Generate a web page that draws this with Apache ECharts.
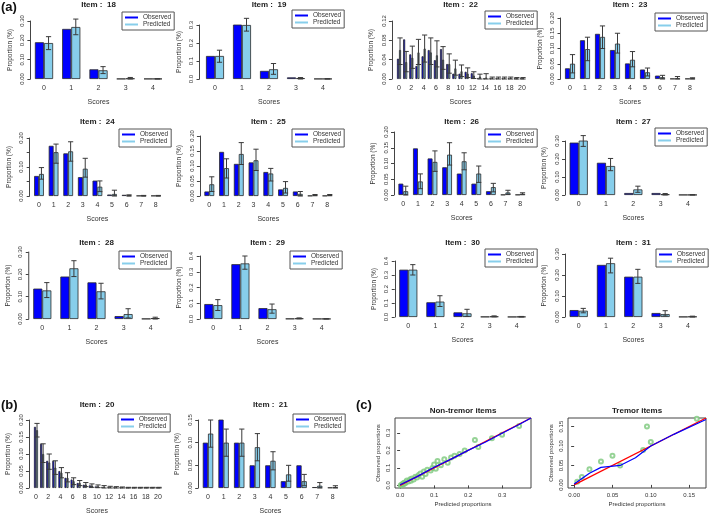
<!DOCTYPE html>
<html><head><meta charset="utf-8">
<script src="https://cdn.jsdelivr.net/npm/echarts/dist/echarts.min.js"></script>
<style>html,body{margin:0;padding:0;background:#fff}#c{width:709px;height:516px}</style>
</head><body><div id="c"></div><script>
// ---------- categories ----------
const scores0to4 = ['0','1','2','3','4'];
const scores0to8 = ['0','1','2','3','4','5','6','7','8'];
const scores0to20 = ['0','1','2','3','4','5','6','7','8','9','10','11','12','13','14','15','16','17','18','19','20'];

// ---------- item values (proportions) ----------
const item18Observed  = [0.190,0.259,0.050,0.001,0.001];
const item18Predicted = [0.186,0.269,0.045,0.003,0.001];
const item18Lower     = [0.152,0.229,0.028,0.000,0.000];
const item18Upper     = [0.219,0.310,0.064,0.008,0.002];

const item19Observed  = [0.128,0.305,0.045,0.009,0.001];
const item19Predicted = [0.128,0.300,0.054,0.005,0.001];
const item19Lower     = [0.093,0.266,0.026,0.000,0.000];
const item19Upper     = [0.160,0.337,0.086,0.008,0.002];

const item22Observed  = [0.042,0.082,0.051,0.027,0.047,0.060,0.039,0.062,0.031,0.011,0.011,0.015,0.012,0.002,0.001,0.001,0.001,0.001,0.001,0.001,0.001];
const item22Predicted = [0.060,0.035,0.044,0.055,0.063,0.055,0.049,0.040,0.031,0.022,0.016,0.011,0.007,0.005,0.003,0.002,0.002,0.002,0.002,0.001,0.001];
const item22Lower     = [0.030,0.015,0.022,0.030,0.035,0.030,0.025,0.020,0.012,0.008,0.005,0.003,0.001,0.000,0.000,0.000,0.000,0.000,0.000,0.000,0.000];
const item22Upper     = [0.085,0.057,0.068,0.082,0.091,0.085,0.079,0.067,0.052,0.039,0.029,0.023,0.015,0.010,0.011,0.004,0.004,0.004,0.004,0.003,0.003];

const item23Observed  = [0.035,0.127,0.148,0.095,0.051,0.031,0.011,0.001,0.001];
const item23Predicted = [0.050,0.098,0.138,0.116,0.063,0.022,0.006,0.002,0.002];
const item23Lower     = [0.020,0.060,0.100,0.085,0.040,0.010,0.000,0.000,0.000];
const item23Upper     = [0.080,0.137,0.174,0.150,0.090,0.036,0.012,0.008,0.004];

const item24Observed  = [0.069,0.173,0.147,0.065,0.053,0.005,0.004,0.001,0.001];
const item24Predicted = [0.076,0.151,0.154,0.094,0.032,0.007,0.002,0.001,0.001];
const item24Lower     = [0.058,0.113,0.120,0.065,0.015,0.000,0.000,0.000,0.000];
const item24Upper     = [0.098,0.179,0.187,0.130,0.052,0.020,0.004,0.002,0.002];

const item25Observed  = [0.015,0.147,0.107,0.112,0.080,0.022,0.015,0.001,0.001];
const item25Predicted = [0.039,0.093,0.140,0.119,0.075,0.027,0.007,0.003,0.003];
const item25Lower     = [0.015,0.060,0.105,0.085,0.050,0.010,0.000,0.001,0.001];
const item25Upper     = [0.064,0.124,0.178,0.156,0.092,0.048,0.015,0.005,0.005];

const item26Observed  = [0.036,0.148,0.116,0.088,0.068,0.036,0.012,0.001,0.001];
const item26Predicted = [0.012,0.043,0.105,0.128,0.107,0.068,0.025,0.008,0.004];
const item26Lower     = [0.000,0.020,0.075,0.095,0.080,0.040,0.010,0.002,0.001];
const item26Upper     = [0.028,0.067,0.140,0.166,0.134,0.092,0.037,0.015,0.007];

const item27Observed  = [0.291,0.179,0.011,0.011,0.001];
const item27Predicted = [0.303,0.161,0.031,0.004,0.001];
const item27Lower     = [0.270,0.135,0.015,0.000,0.000];
const item27Upper     = [0.330,0.203,0.049,0.008,0.002];

const item28Observed  = [0.136,0.190,0.164,0.013,0.001];
const item28Predicted = [0.128,0.227,0.124,0.022,0.004];
const item28Lower     = [0.096,0.190,0.090,0.005,0.000];
const item28Upper     = [0.163,0.261,0.160,0.046,0.008];

const item29Observed  = [0.095,0.348,0.069,0.002,0.001];
const item29Predicted = [0.088,0.353,0.062,0.004,0.001];
const item29Lower     = [0.054,0.316,0.037,0.001,0.000];
const item29Upper     = [0.123,0.400,0.095,0.007,0.002];

const item30Observed  = [0.338,0.105,0.033,0.002,0.001];
const item30Predicted = [0.338,0.110,0.026,0.004,0.002];
const item30Lower     = [0.300,0.075,0.005,0.001,0.000];
const item30Upper     = [0.374,0.152,0.055,0.008,0.004];

const item31Observed  = [0.033,0.248,0.192,0.019,0.001];
const item31Predicted = [0.030,0.256,0.192,0.014,0.002];
const item31Lower     = [0.020,0.210,0.160,0.005,0.000];
const item31Upper     = [0.041,0.280,0.227,0.030,0.004];

const item20Observed  = [0.180,0.130,0.080,0.080,0.050,0.030,0.025,0.015,0.010,0.008,0.005,0.003,0.002,0.001,0.001,0.001,0.001,0.001,0.001,0.001,0.001];
const item20Predicted = [0.170,0.100,0.075,0.060,0.045,0.030,0.020,0.015,0.010,0.007,0.005,0.004,0.003,0.002,0.002,0.001,0.001,0.001,0.001,0.001,0.001];
const item20Lower     = [0.150,0.075,0.055,0.040,0.030,0.018,0.010,0.007,0.004,0.002,0.001,0.000,0.000,0.000,0.000,0.000,0.000,0.000,0.000,0.000,0.000];
const item20Upper     = [0.190,0.130,0.100,0.080,0.060,0.045,0.030,0.022,0.016,0.012,0.009,0.007,0.005,0.004,0.003,0.002,0.002,0.002,0.002,0.002,0.002];

const item21Observed  = [0.100,0.170,0.100,0.050,0.050,0.015,0.050,0.002,0.001];
const item21Predicted = [0.120,0.100,0.100,0.090,0.060,0.030,0.015,0.005,0.002];
const item21Lower     = [0.090,0.070,0.070,0.060,0.040,0.015,0.005,0.000,0.000];
const item21Upper     = [0.150,0.130,0.130,0.120,0.080,0.050,0.030,0.012,0.005];

// ---------- calibration plots (predicted, observed) ----------
const nonTremorPoints = [[0.002,0.001],[0.005,0.004],[0.008,0.010],[0.010,0.006],[0.012,0.015],[0.015,0.012],[0.018,0.020],[0.020,0.028],[0.025,0.022],[0.030,0.035],[0.032,0.027],[0.035,0.040],[0.040,0.033],[0.045,0.050],[0.050,0.045],[0.055,0.060],[0.060,0.068],[0.065,0.050],[0.070,0.080],[0.075,0.065],[0.080,0.090],[0.090,0.085],[0.095,0.100],[0.100,0.120],[0.105,0.095],[0.110,0.140],[0.120,0.115],[0.130,0.150],[0.140,0.130],[0.150,0.160],[0.160,0.170],[0.175,0.180],[0.190,0.200],[0.220,0.260],[0.230,0.220],[0.270,0.270],[0.300,0.290],[0.350,0.340]];
const nonTremorSmooth = [[0.000,0.004],[0.050,0.050],[0.100,0.104],[0.150,0.150],[0.200,0.200],[0.250,0.246],[0.300,0.298],[0.350,0.348],[0.385,0.385]];
const nonTremorIdentity = [[0,0],[0.385,0.385]];
const tremorPoints = [[0.004,0.008],[0.010,0.020],[0.020,0.040],[0.035,0.060],[0.050,0.075],[0.060,0.050],[0.090,0.090],[0.095,0.150],[0.100,0.110],[0.160,0.170]];
const tremorSmooth = [[0.000,0.002],[0.020,0.030],[0.035,0.045],[0.060,0.050],[0.080,0.070],[0.100,0.100],[0.130,0.130],[0.172,0.168]];
const tremorIdentity = [[0,0],[0.172,0.172]];

// ---------- panel list ----------
const panels = [
  ['18', scores0to4,  item18Observed, item18Predicted, item18Lower, item18Upper],
  ['19', scores0to4,  item19Observed, item19Predicted, item19Lower, item19Upper],
  ['22', scores0to20, item22Observed, item22Predicted, item22Lower, item22Upper],
  ['23', scores0to8,  item23Observed, item23Predicted, item23Lower, item23Upper],
  ['24', scores0to8,  item24Observed, item24Predicted, item24Lower, item24Upper],
  ['25', scores0to8,  item25Observed, item25Predicted, item25Lower, item25Upper],
  ['26', scores0to8,  item26Observed, item26Predicted, item26Lower, item26Upper],
  ['27', scores0to4,  item27Observed, item27Predicted, item27Lower, item27Upper],
  ['28', scores0to4,  item28Observed, item28Predicted, item28Lower, item28Upper],
  ['29', scores0to4,  item29Observed, item29Predicted, item29Lower, item29Upper],
  ['30', scores0to4,  item30Observed, item30Predicted, item30Lower, item30Upper],
  ['31', scores0to4,  item31Observed, item31Predicted, item31Lower, item31Upper],
  ['20', scores0to20, item20Observed, item20Predicted, item20Lower, item20Upper],
  ['21', scores0to8,  item21Observed, item21Predicted, item21Lower, item21Upper]
];

// ---------- layout (pixels) ----------
const layout = [
  {c0:44,    step:27.25, zero:79,  top:21,  max:0.30, iv:0.10, dec:2, off:0, lg:[122,12],  ty:1},
  {c0:215,   step:27,    zero:79,  top:25,  max:0.3,  iv:0.1,  dec:1, off:2, lg:[292,10],  ty:1},
  {c0:399,   step:6.15,  zero:79,  top:21,  max:0.12, iv:0.04, dec:2, off:4, lg:[485,11],  ty:1},
  {c0:570,   step:15,    zero:79,  top:18,  max:0.20, iv:0.05, dec:2, off:2, lg:[655,13],  ty:1},
  {c0:39,    step:14.6,  zero:196, top:138, max:0.20, iv:0.05, dec:2, off:2, lg:[119,129], ty:118, skip:true},
  {c0:209.3, step:14.75, zero:196, top:136, max:0.20, iv:0.05, dec:2, off:2, lg:[292,129], ty:118},
  {c0:403.3, step:14.6,  zero:195, top:132, max:0.20, iv:0.05, dec:2, off:2, lg:[485,129], ty:118},
  {c0:578.7, step:27.3,  zero:195, top:141, max:0.30, iv:0.10, dec:2, off:0, lg:[655,128], ty:118},
  {c0:42.3,  step:27.1,  zero:319, top:252, max:0.30, iv:0.10, dec:2, off:0, lg:[119,251], ty:239},
  {c0:213.3, step:27.1,  zero:319, top:256, max:0.4,  iv:0.1,  dec:1, off:0, lg:[290,251], ty:239},
  {c0:408.3, step:27.1,  zero:317, top:261, max:0.4,  iv:0.1,  dec:1, off:0, lg:[485,249], ty:239},
  {c0:578.7, step:27.3,  zero:317, top:254, max:0.30, iv:0.10, dec:2, off:0, lg:[656,249], ty:239},
  {c0:36,    step:6.1,   zero:488, top:420, max:0.20, iv:0.05, dec:2, off:4, lg:[118,414], ty:401},
  {c0:208,   step:15.6,  zero:488, top:420, max:0.15, iv:0.05, dec:2, off:2, lg:[293,414], ty:401}
];

const FONT = '"Liberation Sans", Arial, sans-serif';
const TXT = '#333';
const grids = [], xAxes = [], yAxes = [], series = [], titles = [], legends = [];

function errRender(params, api) {
  const i = api.value(0);
  const lo = api.coord([i, api.value(1)]);
  const hi = api.coord([i, api.value(2)]);
  const bw = api.size([1, 0])[0];
  const x = lo[0] + bw / 6;
  const c = 2.6;
  const st = {stroke: '#3a3a3a', lineWidth: 1};
  return {type: 'group', children: [
    {type: 'line', shape: {x1: x, y1: lo[1], x2: x, y2: hi[1]}, style: st},
    {type: 'line', shape: {x1: x - c, y1: hi[1], x2: x + c, y2: hi[1]}, style: st},
    {type: 'line', shape: {x1: x - c, y1: lo[1], x2: x + c, y2: lo[1]}, style: st}
  ]};
}

panels.forEach((p, k) => {
  const [item, cats, obs, pred, lo, hi] = p;
  const L = layout[k];
  const n = cats.length;
  const left = L.c0 - L.step / 2;
  const width = n * L.step;
  grids.push({left: left, top: L.top, width: width, height: L.zero - L.top});
  xAxes.push({
    gridIndex: k, type: 'category', data: cats,
    axisLine: {show: false}, axisTick: {show: false},
    axisLabel: {fontSize: 7, color: TXT, fontFamily: FONT, margin: 6, interval: n > 10 ? 1 : 0},
    name: 'Scores', nameLocation: 'middle', nameGap: 20,
    nameTextStyle: {fontSize: 7, color: TXT, fontFamily: FONT}
  });
  yAxes.push({
    gridIndex: k, type: 'value', min: 0, max: L.max, interval: L.iv, offset: L.off,
    axisLine: {show: true, lineStyle: {color: '#444', width: 1}},
    axisTick: {show: true, length: 3, lineStyle: {color: '#444'}},
    splitLine: {show: false},
    axisLabel: {rotate: 90, fontSize: 6, color: TXT, fontFamily: FONT, margin: 5,
      formatter: v => {
        if (L.skip && Math.abs((v / L.iv) % 2 - 1) < 0.01) return '';
        return v.toFixed(L.dec);
      }},
    name: 'Proportion (%)', nameLocation: 'middle', nameGap: 17,
    nameTextStyle: {fontSize: 6.5, color: TXT, fontFamily: FONT}
  });
  series.push({
    name: 'Observed', type: 'bar', xAxisIndex: k, yAxisIndex: k, data: obs,
    barGap: '0%', barCategoryGap: '33.3%',
    itemStyle: {color: '#0000FF', borderColor: '#2a2a2a', borderWidth: 0.8}
  });
  series.push({
    name: 'Predicted', type: 'bar', xAxisIndex: k, yAxisIndex: k, data: pred,
    barGap: '0%', barCategoryGap: '33.3%',
    itemStyle: {color: '#87CEEB', borderColor: '#2a2a2a', borderWidth: 0.8}
  });
  series.push({
    type: 'custom', xAxisIndex: k, yAxisIndex: k, renderItem: errRender, silent: true,
    encode: {x: 0, y: [1, 2]}, z: 5,
    data: cats.map((c, j) => [j, lo[j], hi[j]])
  });
  titles.push({
    text: 'Item :  ' + item, left: left + width / 2, top: L.ty, textAlign: 'center', padding: 0,
    textStyle: {fontSize: 8, fontWeight: 'bold', color: '#222', fontFamily: FONT}
  });
  legends.push({
    left: L.lg[0], top: L.lg[1], orient: 'vertical', icon: 'rect',
    itemWidth: 13, itemHeight: 2, itemGap: 0, padding: [2, 3, 2, 3],
    borderColor: '#555', borderWidth: 1, borderRadius: 0,
    textStyle: {fontSize: 6.5, color: TXT, fontFamily: FONT, padding: [0, 0, 0, 0]},
    data: [
      {name: 'Observed', itemStyle: {color: '#0000FF', borderWidth: 0}},
      {name: 'Predicted', itemStyle: {color: '#87CEEB', borderWidth: 0}}
    ]
  });
});

// ---------- calibration plots ----------
const calib = [
  {title: 'Non-tremor items', pts: nonTremorPoints, smooth: nonTremorSmooth, ident: nonTremorIdentity,
   left: 395, top: 418, width: 136, height: 70, min: -0.015, max: 0.385,
   ticks: [0, 0.1, 0.2, 0.3], dec: 1},
  {title: 'Tremor items', pts: tremorPoints, smooth: tremorSmooth, ident: tremorIdentity,
   left: 568, top: 418, width: 138, height: 70, min: -0.008, max: 0.172,
   ticks: [0, 0.05, 0.1, 0.15], dec: 2}
];
calib.forEach((c, m) => {
  const k = panels.length + m;
  grids.push({left: c.left, top: c.top, width: c.width, height: c.height, show: true,
    borderColor: '#444', borderWidth: 1, backgroundColor: 'transparent'});
  const common = {
    gridIndex: k, type: 'value', min: c.min, max: c.max,
    axisLine: {show: false}, splitLine: {show: false},
    axisTick: {show: true, length: 3, lineStyle: {color: '#444'}, customValues: c.ticks},
    nameLocation: 'middle', nameTextStyle: {fontSize: 6, color: TXT, fontFamily: FONT}
  };
  xAxes.push(Object.assign({}, common, {
    axisLabel: {fontSize: 6, color: TXT, fontFamily: FONT, margin: 4, customValues: c.ticks,
      formatter: v => v.toFixed(c.dec)},
    name: 'Predicted proportions', nameGap: 13
  }));
  yAxes.push(Object.assign({}, common, {
    axisLabel: {fontSize: 6, color: TXT, fontFamily: FONT, margin: 4, rotate: 90, customValues: c.ticks,
      formatter: v => v.toFixed(c.dec)},
    name: 'Observed proportions', nameGap: 14
  }));
  series.push({type: 'scatter', xAxisIndex: k, yAxisIndex: k, data: c.pts, symbol: 'emptyCircle',
    symbolSize: 4, itemStyle: {color: '#7CC87C', borderWidth: 0.8}});
  series.push({type: 'line', xAxisIndex: k, yAxisIndex: k, data: c.ident, showSymbol: false,
    lineStyle: {color: '#FF0000', width: 1.2}});
  series.push({type: 'line', xAxisIndex: k, yAxisIndex: k, data: c.smooth, showSymbol: false,
    lineStyle: {color: '#0000FF', width: 1.2}});
  titles.push({text: c.title, left: c.left + c.width / 2, top: 407, textAlign: 'center', padding: 0,
    textStyle: {fontSize: 8, fontWeight: 'bold', color: '#222', fontFamily: FONT}});
});

// panel letters
[['(a)', 1, 1], ['(b)', 1, 399], ['(c)', 356, 399]].forEach(([t, x, y]) => {
  titles.push({text: t, left: x, top: y, padding: 0,
    textStyle: {fontSize: 13, fontWeight: 'bold', color: '#111', fontFamily: FONT}});
});

const chart = echarts.init(document.getElementById('c'), null, {renderer: 'canvas'});
chart.setOption({
  animation: false,
  backgroundColor: '#fff',
  title: titles,
  legend: legends,
  grid: grids,
  xAxis: xAxes,
  yAxis: yAxes,
  series: series
});
</script></body></html>
